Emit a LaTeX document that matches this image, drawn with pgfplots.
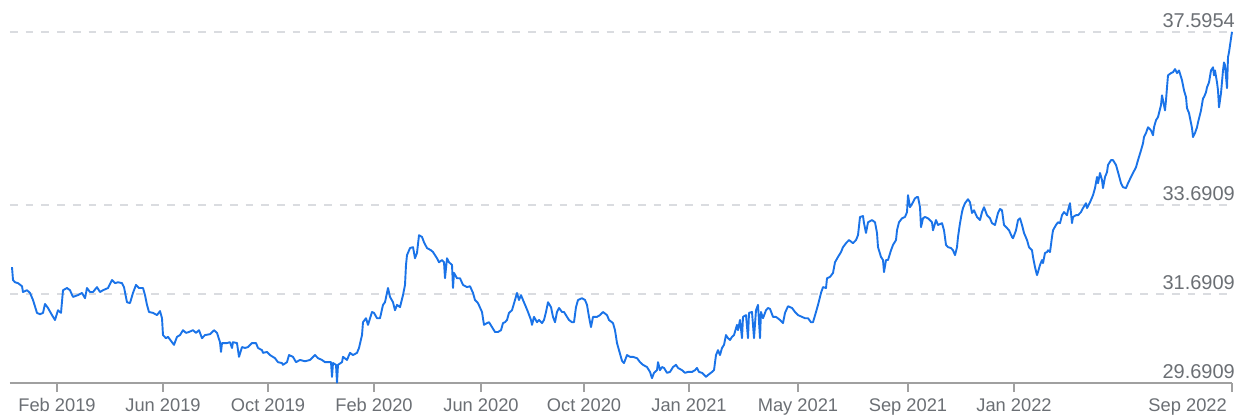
\documentclass[border=0pt]{standalone}
\usepackage{fontspec}
\setmainfont{Liberation Sans}
\usepackage{pgfplots}
\pgfplotsset{compat=1.18}
\definecolor{lineblue}{HTML}{1A73E8}
\definecolor{gridgray}{HTML}{DADCE0}
\definecolor{axisgray}{HTML}{A0A0A0}
\definecolor{textgray}{HTML}{6B6F74}
\begin{document}
\begin{tikzpicture}
\path[use as bounding box] (0,0) rectangle (1248pt,418pt);
\begin{axis}[
  at={(10pt,35pt)}, anchor=south west,
  scale only axis, width=1222pt, height=351pt,
  xmin=10, xmax=1232, ymin=29.6909, ymax=37.5954,
  clip=false,
  axis x line*=bottom, axis y line*=right,
  x axis line style={axisgray, line width=2pt},
  y axis line style={draw=none},
  xtick={57,163,268,374,481,584,689,798,908,1014},
  xticklabels={Feb 2019,Jun 2019,Oct 2019,Feb 2020,Jun 2020,Oct 2020,Jan 2021,May 2021,Sep 2021,Jan 2022},
  extra x ticks={1232},
  extra x tick labels={Sep 2022},
  extra x tick style={xticklabel style={anchor=base east, xshift=-5pt}},
  xtick align=outside, major tick length=9pt,
  xtick style={axisgray, line width=2pt},
  xticklabel style={anchor=base, inner sep=0pt, yshift=-19pt, font=\fontsize{18.3}{20}\selectfont, text=textgray},
  ytick={29.6909,31.6909,33.6909,37.5954},
  yticklabels={29.6909,31.6909,33.6909,37.5954},
  ytick align=inside,
  ytick style={draw=none},
  yticklabel style={anchor=base east, inner sep=0pt, xshift=3pt, yshift=5pt, font=\fontsize{20}{22}\selectfont, text=textgray},
  ymajorgrids,
  major grid style={gridgray, line width=2pt, dash pattern=on 7.7pt off 8pt},
]
\addplot[lineblue, line width=1.9pt, line join=round] coordinates {
(12,32.30) (13,32.01) (15,31.96) (18,31.94) (22,31.87) (23,31.74) (27,31.78) (30,31.72)
(33,31.56) (37,31.27) (40,31.24) (43,31.27) (45,31.47) (48,31.38) (52,31.22) (55,31.11)
(58,31.33) (61,31.27) (63,31.78) (67,31.83) (70,31.78) (73,31.63) (78,31.67) (82,31.72)
(85,31.60) (87,31.83) (90,31.74) (93,31.74) (97,31.85) (100,31.74) (103,31.78) (108,31.83)
(112,32.01) (115,31.94) (118,31.96) (122,31.94) (124,31.85) (127,31.51) (130,31.49) (133,31.72)
(136,31.90) (139,31.83) (143,31.83) (145,31.67) (147,31.45) (149,31.29) (153,31.27) (157,31.22)
(160,31.31) (162,31.15) (163,30.77) (166,30.70) (168,30.73) (172,30.61) (174,30.55) (177,30.73)
(180,30.77) (183,30.88) (186,30.82) (189,30.84) (193,30.88) (196,30.82) (199,30.88) (202,30.70)
(205,30.77) (210,30.79) (214,30.88) (217,30.82) (220,30.61) (221,30.39) (222,30.59) (227,30.59)
(230,30.61) (232,30.48) (233,30.61) (237,30.59) (239,30.28) (242,30.50) (245,30.48) (248,30.50)
(252,30.59) (256,30.59) (258,30.48) (262,30.43) (263,30.37) (267,30.39) (270,30.32) (275,30.25)
(278,30.16) (282,30.14) (283,30.10) (287,30.16) (289,30.32) (293,30.28) (296,30.16) (300,30.21)
(305,30.18) (310,30.21) (315,30.32) (318,30.25) (322,30.21) (325,30.16) (328,30.16) (331,30.16)
(332,29.83) (333,30.14) (336,30.10) (337,29.70) (338,30.10) (342,30.16) (343,30.28) (347,30.21)
(350,30.37) (353,30.32) (357,30.37) (359,30.48) (362,30.77) (363,31.06) (366,31.15) (368,31.00)
(372,31.29) (374,31.27) (377,31.15) (380,31.15) (383,31.45) (385,31.51) (388,31.83) (390,31.63)
(393,31.51) (395,31.33) (397,31.45) (400,31.40) (403,31.67) (405,31.90) (406,32.35) (407,32.57)
(410,32.73) (413,32.75) (415,32.50) (417,32.62) (419,33.02) (422,32.98) (424,32.86) (427,32.73)
(431,32.68) (433,32.64) (437,32.50) (439,32.41) (442,32.46) (444,32.41) (445,32.05) (447,32.50)
(449,32.41) (452,32.35) (453,31.83) (454,32.17) (457,32.05) (460,32.05) (463,31.90) (467,31.85)
(470,31.87) (473,31.72) (475,31.56) (478,31.49) (482,31.29) (484,31.00) (487,31.04) (489,31.06)
(492,30.95) (495,30.84) (498,30.84) (501,30.88) (503,31.04) (505,31.06) (507,31.11) (509,31.27)
(512,31.33) (515,31.56) (517,31.72) (519,31.56) (521,31.67) (523,31.56) (526,31.40) (528,31.29)
(531,31.11) (532,31.00) (534,31.18) (537,31.06) (539,31.11) (542,31.04) (544,31.11) (546,31.29)
(548,31.51) (551,31.40) (553,31.18) (555,31.06) (557,31.29) (559,31.38) (562,31.29) (564,31.29)
(567,31.18) (569,31.11) (572,31.06) (574,31.06) (576,31.40) (578,31.56) (582,31.60) (585,31.56)
(587,31.45) (589,31.18) (591,30.95) (593,31.18) (597,31.18) (600,31.22) (603,31.29) (607,31.22)
(609,31.11) (613,31.04) (615,30.88) (617,30.59) (619,30.43) (622,30.19) (624,30.14) (627,30.32)
(630,30.28) (633,30.28) (637,30.25) (640,30.16) (643,30.10) (647,30.05) (650,29.94) (652,29.80)
(654,29.92) (657,29.98) (658,30.16) (660,29.98) (662,30.05) (664,30.03) (667,29.92) (670,29.94)
(673,30.05) (676,30.10) (678,30.03) (682,29.98) (685,29.92) (688,29.94) (692,29.94) (695,29.98)
(697,30.03) (699,29.94) (702,29.92) (706,29.83) (708,29.87) (712,29.94) (714,29.98) (716,30.32)
(718,30.43) (720,30.32) (722,30.48) (724,30.55) (726,30.77) (728,30.70) (730,30.66) (732,30.73)
(734,30.77) (737,31.00) (738,30.88) (740,31.11) (742,30.70) (743,31.18) (746,31.22) (748,30.70)
(749,31.27) (752,31.29) (754,30.70) (756,31.33) (758,31.45) (760,30.70) (761,31.29) (763,31.15)
(766,31.33) (768,31.38) (770,31.36) (773,31.18) (776,31.18) (780,31.11) (783,31.04) (785,31.27)
(788,31.42) (792,31.38) (795,31.29) (798,31.22) (802,31.18) (805,31.15) (808,31.15) (811,31.06)
(813,31.06) (816,31.29) (818,31.45) (821,31.72) (823,31.85) (826,31.83) (827,32.05) (830,32.08)
(833,32.17) (835,32.41) (838,32.53) (841,32.64) (843,32.75) (846,32.84) (849,32.91) (853,32.84)
(856,32.91) (858,33.02) (860,33.43) (863,33.45) (864,33.29) (866,33.07) (868,33.31) (872,33.36)
(875,33.31) (877,33.07) (878,32.75) (881,32.53) (883,32.46) (884,32.19) (886,32.46) (888,32.46)
(891,32.68) (893,32.80) (896,32.91) (897,33.13) (899,33.31) (902,33.40) (905,33.43) (907,33.54)
(908,33.92) (910,33.65) (913,33.76) (915,33.85) (917,33.88) (918,33.88) (920,33.65) (921,33.20)
(923,33.40) (925,33.43) (928,33.40) (932,33.31) (933,33.13) (936,33.36) (938,33.25) (942,33.29)
(944,33.13) (946,32.80) (948,32.75) (951,32.73) (953,32.68) (955,32.57) (957,32.75) (958,32.98)
(960,33.29) (962,33.54) (963,33.63) (965,33.74) (968,33.83) (970,33.76) (972,33.52) (974,33.58)
(977,33.43) (980,33.36) (982,33.54) (984,33.65) (987,33.47) (990,33.40) (992,33.29) (995,33.25)
(998,33.52) (1000,33.61) (1002,33.58) (1004,33.25) (1007,33.18) (1009,33.13) (1012,32.98) (1013,32.95)
(1016,33.13) (1018,33.36) (1020,33.40) (1022,33.25) (1024,33.07) (1027,32.91) (1029,32.75) (1032,32.68)
(1033,32.53) (1035,32.30) (1037,32.12) (1038,32.19) (1040,32.35) (1042,32.46) (1043,32.39) (1045,32.62)
(1047,32.64) (1048,32.68) (1050,32.64) (1052,32.98) (1053,33.13) (1056,33.25) (1058,33.31) (1060,33.29)
(1062,33.47) (1064,33.54) (1067,33.47) (1068,33.58) (1070,33.74) (1072,33.29) (1073,33.43) (1076,33.47)
(1078,33.47) (1081,33.54) (1083,33.63) (1086,33.74) (1087,33.63) (1090,33.76) (1093,33.92) (1095,34.08)
(1097,34.33) (1098,34.19) (1100,34.42) (1102,34.26) (1103,34.08) (1105,34.33) (1107,34.44) (1108,34.60)
(1111,34.71) (1113,34.71) (1116,34.60) (1118,34.44) (1121,34.19) (1123,34.10) (1126,34.08) (1128,34.19)
(1131,34.33) (1133,34.42) (1136,34.55) (1138,34.71) (1141,34.93) (1143,35.09) (1144,35.23) (1146,35.32)
(1148,35.45) (1151,35.38) (1153,35.27) (1154,35.45) (1156,35.61) (1158,35.68) (1161,35.95) (1162,36.17)
(1163,36.06) (1165,35.83) (1166,36.06) (1167,36.35) (1168,36.62) (1171,36.67) (1173,36.69) (1175,36.76)
(1177,36.67) (1179,36.73) (1182,36.51) (1184,36.28) (1186,36.13) (1187,35.88) (1189,35.77) (1192,35.43)
(1193,35.23) (1195,35.32) (1197,35.45) (1198,35.56) (1201,35.83) (1203,36.10) (1204,36.13) (1206,36.24)
(1207,36.35) (1209,36.46) (1211,36.73) (1213,36.80) (1214,36.62) (1215,36.73) (1217,36.46) (1218,36.28)
(1219,35.90) (1221,36.22) (1223,36.73) (1224,36.91) (1225,36.85) (1227,36.33) (1228,37.03) (1229,37.14)
(1231,37.45) (1232,37.60)
};
\end{axis}
\end{tikzpicture}
\end{document}
